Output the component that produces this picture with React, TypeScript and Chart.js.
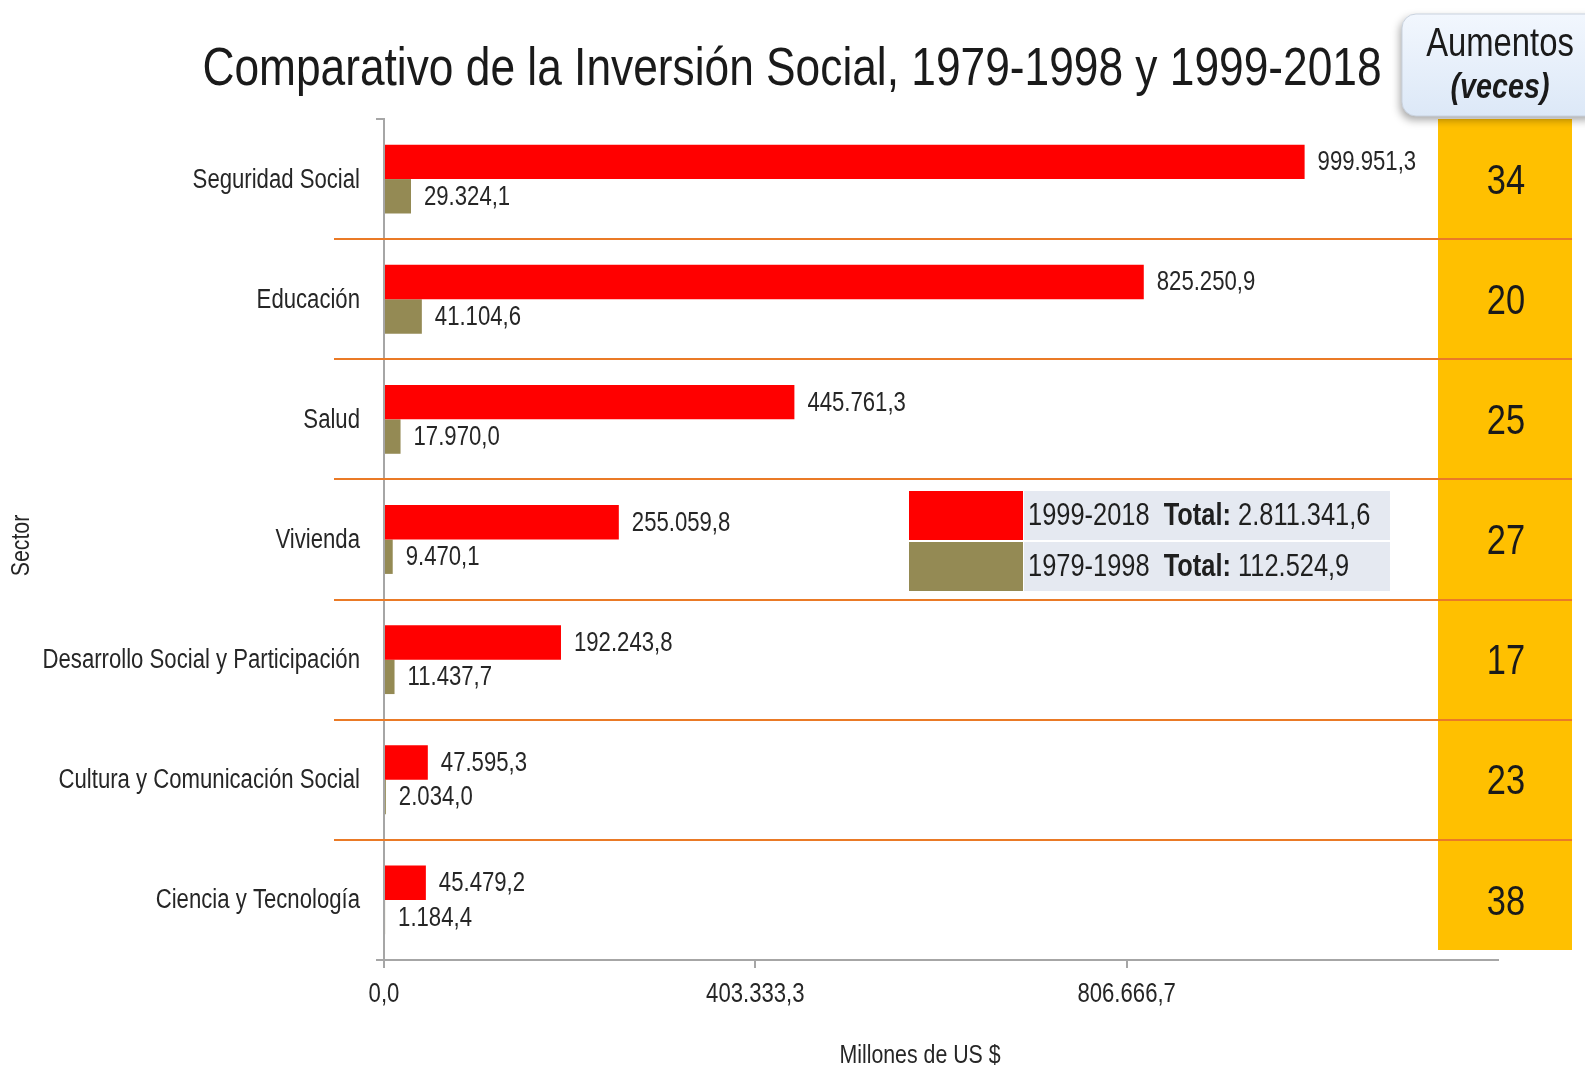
import React, { useEffect, useRef } from 'react';
import { Chart, registerables } from 'chart.js';

Chart.register(...registerables);

// Narrow sans (Arial Narrow look): Liberation Sans condensed horizontally when drawn
const FAMILY = "'Liberation Sans', Arial, sans-serif";
const SX = 0.82;

const titleText = 'Comparativo de la Inversión Social, 1979-1998 y 1999-2018';
const sectors = [
  'Seguridad Social',
  'Educación',
  'Salud',
  'Vivienda',
  'Desarrollo Social y Participación',
  'Cultura y Comunicación Social',
  'Ciencia y Tecnología',
];
const periodLabels = ['1999-2018', '1979-1998'];
const values1999_2018 = [999951.3, 825250.9, 445761.3, 255059.8, 192243.8, 47595.3, 45479.2];
const values1979_1998 = [29324.1, 41104.6, 17970.0, 9470.1, 11437.7, 2034.0, 1184.4];
const aumentos = [34, 20, 25, 27, 17, 23, 38];
const xTickValues = [0, 403333.3, 806666.7, 1210000];
const xTickLabels = ['0,0', '403.333,3', '806.666,7', ''];
const xAxisTitle = 'Millones de US $';
const yAxisTitle = 'Sector';
const aumentosTitle = 'Aumentos';
const aumentosSub = '(veces)';

const RED = '#FF0000';
const OLIVE = '#948A54';
const YELLOW = '#FFC000';
const ORANGE = '#EA7A26';
const AXIS = '#A6A6A6';
const TEXT = '#262626';

function fmt(v: number): string {
  const [i, d] = v.toFixed(1).split('.');
  return i.replace(/\B(?=(\d{3})+(?!\d))/g, '.') + ',' + d;
}

const sum = (a: number[]) => a.reduce((s, v) => s + v, 0);

function drawText(
  ctx: CanvasRenderingContext2D,
  text: string,
  x: number,
  y: number,
  font: string,
  align: CanvasTextAlign = 'left',
  color: string = TEXT,
  rotate = 0,
) {
  ctx.save();
  ctx.translate(x, y);
  if (rotate) ctx.rotate(rotate);
  ctx.scale(SX, 1);
  ctx.font = font;
  ctx.textAlign = align;
  ctx.textBaseline = 'middle';
  ctx.fillStyle = color;
  ctx.fillText(text, 0, 0);
  ctx.restore();
}

function textWidth(ctx: CanvasRenderingContext2D, text: string, font: string) {
  ctx.save();
  ctx.font = font;
  const w = ctx.measureText(text).width * SX;
  ctx.restore();
  return w;
}

function roundRectPath(ctx: CanvasRenderingContext2D, x: number, y: number, w: number, h: number, r: number) {
  ctx.beginPath();
  ctx.moveTo(x + r, y);
  ctx.lineTo(x + w - r, y);
  ctx.arcTo(x + w, y, x + w, y + r, r);
  ctx.lineTo(x + w, y + h - r);
  ctx.arcTo(x + w, y + h, x + w - r, y + h, r);
  ctx.lineTo(x + r, y + h);
  ctx.arcTo(x, y + h, x, y + h - r, r);
  ctx.lineTo(x, y + r);
  ctx.arcTo(x, y, x + r, y, r);
  ctx.closePath();
}

const decorPlugin = {
  id: 'decor',
  afterDraw(chart: any) {
    const ctx: CanvasRenderingContext2D = chart.ctx;
    const ys = chart.scales.y;
    const xs = chart.scales.x;
    const area = chart.chartArea;
    ctx.save();

    // Title
    drawText(ctx, titleText, 792, 70, `54px ${FAMILY}`, 'center', '#1A1A1A');

    // Category (y) tick labels
    sectors.forEach((s, i) => {
      drawText(ctx, s, 360, ys.getPixelForValue(i) + 1, `27px ${FAMILY}`, 'right');
    });

    // Value (x) tick labels
    xTickValues.forEach((v, i) => {
      if (xTickLabels[i]) drawText(ctx, xTickLabels[i], xs.getPixelForValue(v), 995, `27px ${FAMILY}`, 'center');
    });

    // Axis titles
    drawText(ctx, xAxisTitle, 920, 1056, `26px ${FAMILY}`, 'center');
    drawText(ctx, yAxisTitle, 22, (area.top + area.bottom) / 2 + 6, `26px ${FAMILY}`, 'center', TEXT, -Math.PI / 2);

    // Yellow column
    const colL = 1438;
    const colR = 1572;
    ctx.fillStyle = YELLOW;
    ctx.fillRect(colL, area.top, colR - colL, area.bottom - 10 - area.top);

    // Aumentos numbers
    aumentos.forEach((v, i) => {
      drawText(ctx, String(v), (colL + colR) / 2 + 1, ys.getPixelForValue(i) + 3, `42px ${FAMILY}`, 'center', '#1A1A1A');
    });

    // Orange separators
    ctx.strokeStyle = ORANGE;
    ctx.lineWidth = 2;
    for (let i = 1; i < sectors.length; i++) {
      const by = Math.round((ys.getPixelForValue(i - 1) + ys.getPixelForValue(i)) / 2);
      ctx.beginPath();
      ctx.moveTo(334, by);
      ctx.lineTo(colR, by);
      ctx.stroke();
    }

    // Data labels
    chart.data.datasets.forEach((ds: any, di: number) => {
      const meta = chart.getDatasetMeta(di);
      meta.data.forEach((bar: any, i: number) => {
        drawText(ctx, fmt(ds.data[i]), bar.x + 13, bar.y + 1, `27px ${FAMILY}`, 'left');
      });
    });

    // Legend box
    const lx = 909, swW = 114, ly = 491, rowH = 49, gap = 2, txtR = 1390;
    const rows = [
      { color: RED, label: periodLabels[0], total: sum(values1999_2018) },
      { color: OLIVE, label: periodLabels[1], total: sum(values1979_1998) },
    ];
    const fReg = `31px ${FAMILY}`;
    const fBold = `bold 31px ${FAMILY}`;
    rows.forEach((r, i) => {
      const ry = ly + i * (rowH + gap);
      ctx.fillStyle = r.color;
      ctx.fillRect(lx, ry, swW, rowH);
      ctx.fillStyle = '#E5E9F1';
      ctx.fillRect(lx + swW + 1, ry, txtR - lx - swW - 1, rowH);
      let tx = lx + swW + 5;
      const cy = ry + rowH / 2 + 1;
      drawText(ctx, r.label, tx, cy, fReg, 'left', '#1F1F1F');
      tx += textWidth(ctx, r.label + '  ', fReg);
      drawText(ctx, 'Total:', tx, cy, fBold, 'left', '#1F1F1F');
      tx += textWidth(ctx, 'Total: ', fBold);
      drawText(ctx, fmt(r.total), tx, cy, fReg, 'left', '#1F1F1F');
    });

    // Aumentos header box
    const bx = 1402, by0 = 14, bw = 200, bh = 102, rad = 14;
    ctx.save();
    ctx.shadowColor = 'rgba(0,0,0,0.35)';
    ctx.shadowBlur = 8;
    ctx.shadowOffsetX = -2;
    ctx.shadowOffsetY = 4;
    const grad = ctx.createLinearGradient(0, by0, 0, by0 + bh);
    grad.addColorStop(0, '#F2F7FE');
    grad.addColorStop(1, '#DCE8F7');
    ctx.fillStyle = grad;
    roundRectPath(ctx, bx, by0, bw, bh, rad);
    ctx.fill();
    ctx.restore();
    ctx.strokeStyle = '#C9D2DE';
    ctx.lineWidth = 1;
    roundRectPath(ctx, bx, by0, bw, bh, rad);
    ctx.stroke();

    drawText(ctx, aumentosTitle, 1500, 45, `40px ${FAMILY}`, 'center', '#1A1A1A');
    drawText(ctx, aumentosSub, 1500, 88, `italic bold 35px ${FAMILY}`, 'center', '#1A1A1A');

    ctx.restore();
  },
};

export default function App() {
  const canvasRef = useRef<HTMLCanvasElement | null>(null);

  useEffect(() => {
    document.body.style.margin = '0';
    document.body.style.background = '#FFFFFF';
    const canvas = canvasRef.current;
    if (!canvas) return;
    const chart = new Chart(canvas, {
      type: 'bar',
      data: {
        labels: sectors,
        datasets: [
          {
            label: periodLabels[0],
            data: values1999_2018,
            backgroundColor: RED,
            categoryPercentage: 0.573,
            barPercentage: 1,
          },
          {
            label: periodLabels[1],
            data: values1979_1998,
            backgroundColor: OLIVE,
            categoryPercentage: 0.573,
            barPercentage: 1,
          },
        ],
      },
      options: {
        indexAxis: 'y',
        responsive: false,
        animation: false,
        devicePixelRatio: 1,
        layout: { padding: { top: 119, right: 87, left: 0, bottom: 0 } },
        plugins: {
          legend: { display: false },
          title: { display: false },
          tooltip: { enabled: false },
        },
        scales: {
          x: {
            type: 'linear',
            min: 0,
            max: 1210000,
            afterFit: (s: any) => {
              s.height = 108;
            },
            afterBuildTicks: (s: any) => {
              s.ticks = xTickValues.map((v) => ({ value: v }));
            },
            border: { display: true, color: AXIS, width: 2 },
            grid: {
              display: true,
              drawOnChartArea: false,
              drawTicks: true,
              tickLength: 8,
              color: AXIS,
              tickColor: (c: any) => (c.index === xTickValues.length - 1 ? 'rgba(0,0,0,0)' : AXIS),
              lineWidth: 2,
            },
            ticks: { display: false, autoSkip: false },
          },
          y: {
            type: 'category',
            afterFit: (s: any) => {
              s.width = 384;
            },
            border: { display: true, color: AXIS, width: 2 },
            grid: {
              display: true,
              offset: true,
              drawOnChartArea: false,
              drawTicks: true,
              tickLength: 8,
              color: AXIS,
              lineWidth: 2,
            },
            ticks: { display: false },
          },
        },
      },
      plugins: [decorPlugin],
    } as any);
    return () => chart.destroy();
  }, []);

  return (
    <div style={{ width: 1585, height: 1068, background: '#FFFFFF' }}>
      <canvas ref={canvasRef} width={1585} height={1068} style={{ display: 'block' }} />
    </div>
  );
}
